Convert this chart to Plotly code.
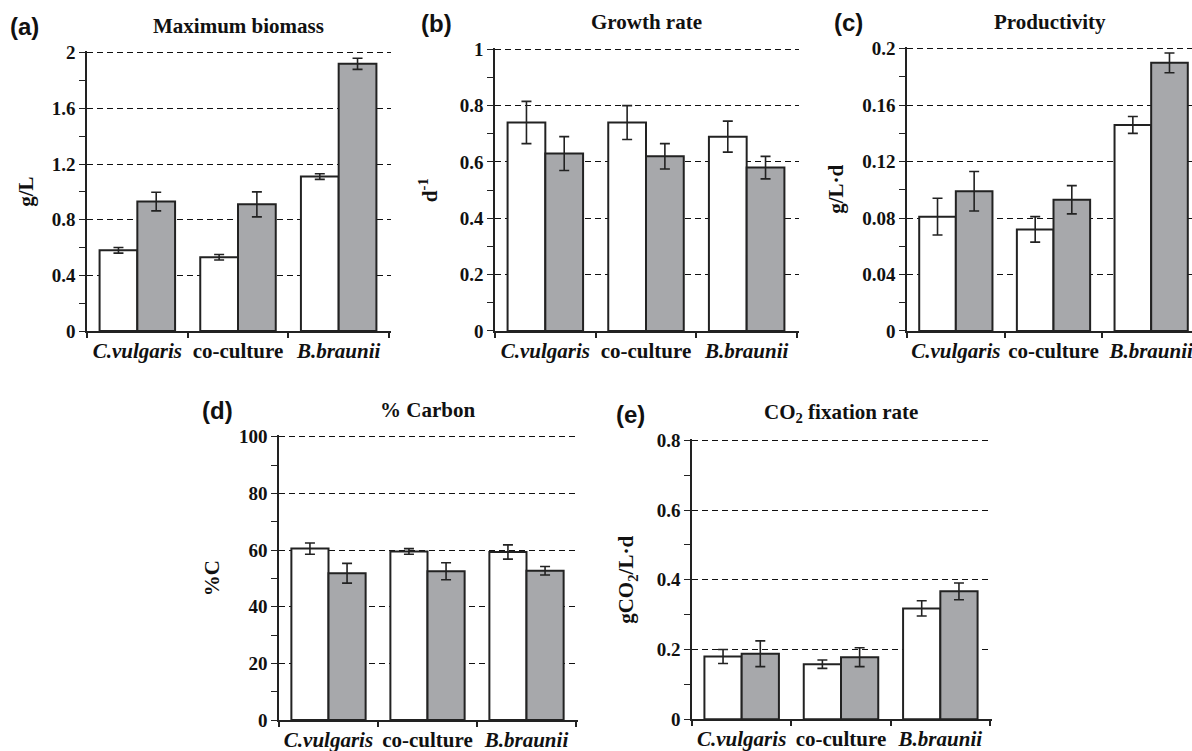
import plotly.graph_objects as go

W, H = 1192, 751

categories = ["C.vulgaris", "co-culture", "B.braunii"]
cat_labels = ["<i>C.vulgaris</i>", "co-culture", "<i>B.braunii</i>"]

# (a) Maximum biomass g/L
a_white = [0.58, 0.53, 1.11]
a_white_err = [0.02, 0.02, 0.02]
a_grey = [0.93, 0.91, 1.92]
a_grey_err = [0.067, 0.09, 0.04]
a_ticks = [0, 0.4, 0.8, 1.2, 1.6, 2]
a_ticktext = ["0", "0.4", "0.8", "1.2", "1.6", "2"]

# (b) Growth rate d-1
b_white = [0.74, 0.74, 0.69]
b_white_err = [0.075, 0.06, 0.055]
b_grey = [0.63, 0.62, 0.58]
b_grey_err = [0.06, 0.045, 0.04]
b_ticks = [0, 0.2, 0.4, 0.6, 0.8, 1]
b_ticktext = ["0", "0.2", "0.4", "0.6", "0.8", "1"]

# (c) Productivity g/L·d
c_white = [0.081, 0.072, 0.146]
c_white_err = [0.013, 0.009, 0.006]
c_grey = [0.099, 0.093, 0.190]
c_grey_err = [0.014, 0.01, 0.007]
c_ticks = [0, 0.04, 0.08, 0.12, 0.16, 0.2]
c_ticktext = ["0", "0.04", "0.08", "0.12", "0.16", "0.2"]

# (d) % Carbon
d_white = [60.5, 59.5, 59.3]
d_white_err = [2.0, 1.0, 2.5]
d_grey = [51.8, 52.5, 52.7]
d_grey_err = [3.5, 3.0, 1.5]
d_ticks = [0, 20, 40, 60, 80, 100]
d_ticktext = ["0", "20", "40", "60", "80", "100"]

# (e) CO2 fixation rate
e_white = [0.180, 0.158, 0.318]
e_white_err = [0.02, 0.012, 0.022]
e_grey = [0.188, 0.178, 0.367]
e_grey_err = [0.037, 0.027, 0.024]
e_ticks = [0, 0.2, 0.4, 0.6, 0.8]
e_ticktext = ["0", "0.2", "0.4", "0.6", "0.8"]

GREY = "#a7a8ab"
LINE = "#222222"
SERIF = "Liberation Serif"
SANS = "Liberation Sans"
EPS = 0.006

panels = [
    dict(w=a_white, we=a_white_err, g=a_grey, ge=a_grey_err, ymax=2, tv=a_ticks, tt=a_ticktext, minor=0.2,
         x0=87, x1=389, yb=331, yt=52.7, clip=False,
         title="Maximum biomass", ytitle="g/L", label="(a)", ytx=26, lx=24),
    dict(w=b_white, we=b_white_err, g=b_grey, ge=b_grey_err, ymax=1, tv=b_ticks, tt=b_ticktext, minor=0.1,
         x0=495, x1=797, yb=331, yt=49.3, clip=False,
         title="Growth rate", ytitle="d<sup>-1</sup>", label="(b)", ytx=428, lx=436),
    dict(w=c_white, we=c_white_err, g=c_grey, ge=c_grey_err, ymax=0.2, tv=c_ticks, tt=c_ticktext, minor=0.02,
         x0=907, x1=1200, yb=331, yt=48.7, clip=True,
         title="Productivity", ytitle="g/L·d", label="(c)", ytx=836, lx=848),
    dict(w=d_white, we=d_white_err, g=d_grey, ge=d_grey_err, ymax=100, tv=d_ticks, tt=d_ticktext, minor=10,
         x0=279, x1=576, yb=720, yt=436.7, clip=False,
         title="% Carbon", ytitle="%C", label="(d)", ytx=212, lx=217),
    dict(w=e_white, we=e_white_err, g=e_grey, ge=e_grey_err, ymax=0.8, tv=e_ticks, tt=e_ticktext, minor=0.1,
         x0=692, x1=990, yb=719.3, yt=440.3, clip=False,
         title="CO<sub>2</sub> fixation rate", ytitle="gCO<sub>2</sub>/L·d", label="(e)", ytx=627, lx=630),
]

fig = go.Figure()
layout = {}
annotations = []

for i, p in enumerate(panels):
    n = i + 1
    xa = "x" if n == 1 else f"x{n}"
    ya = "y" if n == 1 else f"y{n}"
    for vals, errs, color in [(p["w"], p["we"], "white"), (p["g"], p["ge"], GREY)]:
        fig.add_trace(go.Bar(
            x=categories, y=vals, xaxis=xa, yaxis=ya,
            marker=dict(color=color, line=dict(color=LINE, width=2)),
            error_y=dict(type="data", array=errs, visible=True, color=LINE, thickness=1.6, width=5),
            showlegend=False, offsetgroup=color,
        ))
    xkey = "xaxis" if n == 1 else f"xaxis{n}"
    ykey = "yaxis" if n == 1 else f"yaxis{n}"
    catw = (p["x1"] - p["x0"]) / 3.0
    if p["clip"]:
        x1px = W
        xr_end = -0.5 + (W - p["x0"]) / catw
    else:
        x1px = p["x1"] + catw * EPS * 3
        xr_end = 2.5 + EPS * 3
    ytop_px = p["yb"] - (p["yb"] - p["yt"]) * (1 + EPS)
    layout[xkey] = dict(
        domain=[p["x0"] / W, x1px / W], anchor=ya,
        type="category", range=[-0.5, xr_end],
        tickmode="array", tickvals=categories, ticktext=cat_labels,
        tickson="boundaries", ticks="outside", ticklen=5, tickcolor=LINE, tickwidth=1.5,
        showline=True, linecolor=LINE, linewidth=1.5, showgrid=False,
        tickangle=0, automargin=False,
        tickfont=dict(family=SERIF, size=21, color="#111", weight="bold"),
        fixedrange=True,
    )
    layout[ykey] = dict(
        domain=[(H - p["yb"]) / H, (H - ytop_px) / H], anchor=xa,
        range=[0, p["ymax"] * (1 + EPS)],
        tickmode="array", tickvals=p["tv"], ticktext=p["tt"],
        ticks="outside", ticklen=6, tickcolor=LINE, tickwidth=1.3,
        showline=True, linecolor=LINE, linewidth=1.5,
        showgrid=True, gridcolor="#111", griddash="6px,4px", gridwidth=1.3,
        zeroline=False, automargin=False,
        minor=dict(dtick=p["minor"], tick0=0, ticks="outside", ticklen=6, tickcolor=LINE, tickwidth=1.2, showgrid=False),
        tickfont=dict(family=SERIF, size=19, color="#111", weight="bold"),
        fixedrange=True,
    )
    cx = p["x0"] + catw * 1.5
    if p["clip"]:
        cx = p["x0"] + catw * 1.5 - 4
    ty = p["yt"] - 27
    annotations.append(dict(
        text=p["title"], x=cx / W, y=(H - ty) / H, xref="paper", yref="paper",
        showarrow=False, xanchor="center", yanchor="middle",
        font=dict(family=SERIF, size=21, color="#111", weight="bold"),
    ))
    annotations.append(dict(
        text=p["label"], x=p["lx"] / W, y=(H - (p["yt"] - 26)) / H, xref="paper", yref="paper",
        showarrow=False, xanchor="center", yanchor="middle",
        font=dict(family=SANS, size=24, color="#111", weight="bold"),
    ))
    annotations.append(dict(
        text=p["ytitle"], x=p["ytx"] / W, y=(H - (p["yb"] + p["yt"]) / 2.0) / H, xref="paper", yref="paper",
        showarrow=False, xanchor="center", yanchor="middle", textangle=-90,
        font=dict(family=SERIF, size=21, color="#111", weight="bold"),
    ))

fig.update_layout(
    width=W, height=H, margin=dict(l=0, r=0, t=0, b=0, autoexpand=False),
    paper_bgcolor="white", plot_bgcolor="white",
    barmode="group", bargap=0.25, bargroupgap=0,
    annotations=annotations, showlegend=False,
    **layout,
)

fig.write_html("out.html", config={"displayModeBar": False},
               post_script="document.body.style.margin='0';document.body.style.overflow='hidden';")
